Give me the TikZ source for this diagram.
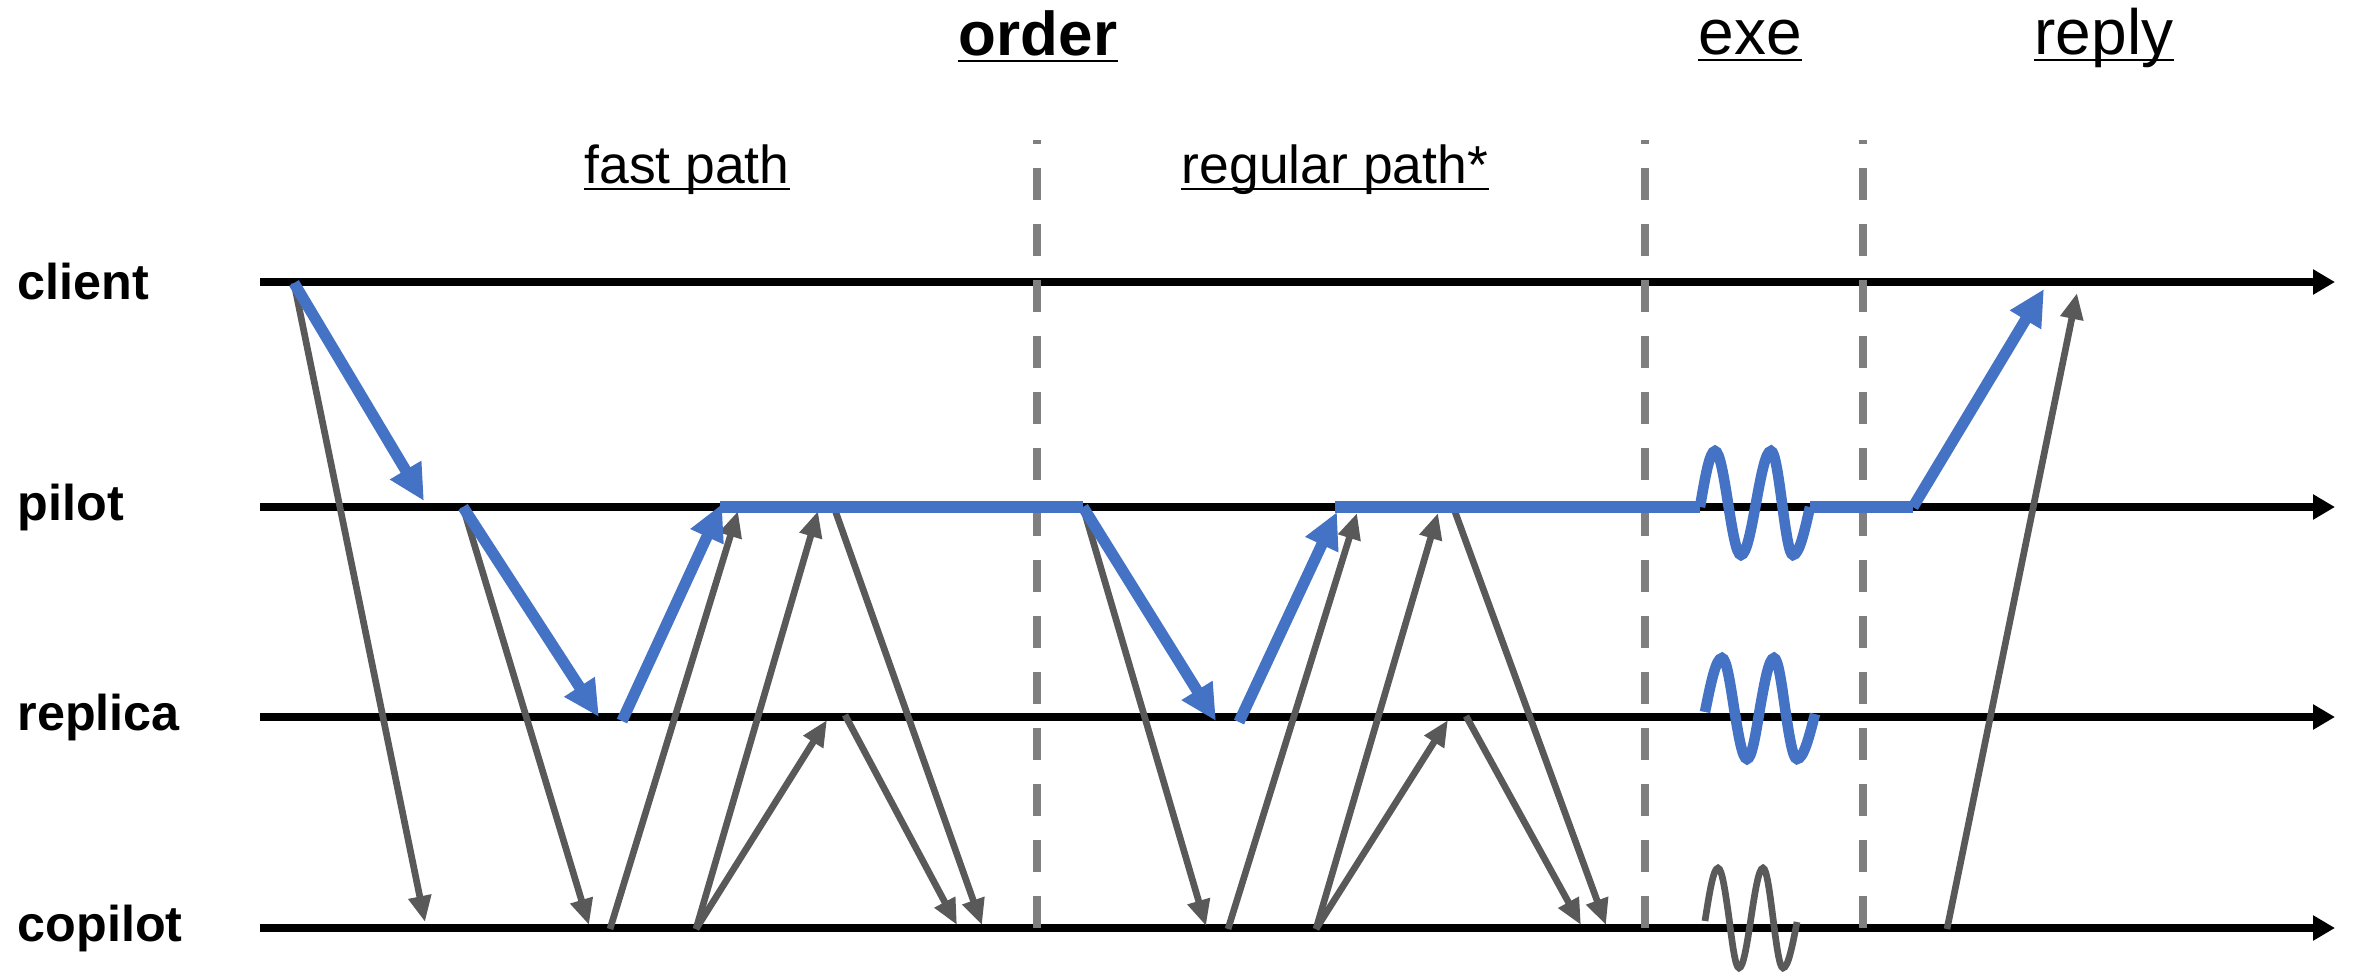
\documentclass[tikz,border=0pt]{standalone}
\usepackage{fontspec}
\setmainfont{Liberation Sans}
\usepackage{xcolor}
\usepackage{tikz}
\usetikzlibrary{arrows.meta}

\definecolor{msgblue}{HTML}{4472C4}
\definecolor{msggray}{HTML}{595959}
\definecolor{sepgray}{HTML}{7F7F7F}

\begin{document}
\begin{tikzpicture}[x=0.01cm,y=-0.01cm,
    timeline/.style={line width=2.3pt,-{Triangle[length=0.22cm,width=0.24cm]}},
    sepline/.style={draw=sepgray,line width=2pt,dash pattern=on 0.32cm off 0.24cm},
    graymsg/.style={draw=msggray,line width=1.9pt,-{Triangle[length=0.26cm,width=0.22cm]}},
    bluemsg/.style={draw=msgblue,line width=3.2pt,-{Triangle[length=0.36cm,width=0.34cm]}},
    bluehold/.style={draw=msgblue,line width=3.6pt},
    bluewave/.style={draw=msgblue,line width=3pt},
    graywave/.style={draw=msggray,line width=1.9pt},
    proc/.style={font=\fontsize{14.3}{17}\selectfont\bfseries,anchor=west,inner sep=0pt},
    phase/.style={font=\fontsize{18.2}{22}\selectfont,anchor=base,inner sep=0pt},
    subphase/.style={font=\fontsize{15.2}{18}\selectfont,anchor=base,inner sep=0pt},
    uline/.style={line width=0.8pt}]
  \useasboundingbox (0,0) rectangle (2356,975);

  \node[phase,font=\fontsize{17.6}{21}\selectfont\bfseries] (order) at (1038,55) {order};
  \node[phase] (exe) at (1750,54) {exe};
  \node[phase] (reply) at (2104,54) {reply};
  \node[subphase] (fast) at (687,183) {fast path};
  \node[subphase] (regular) at (1335,183) {regular path*};
  \foreach \n in {order,exe,reply,fast,regular}
    \draw[uline] ([yshift=-0.06cm]\n.base west) -- ([yshift=-0.06cm]\n.base east);

  \foreach \n/\y in {client/282,pilot/507,replica/717,copilot/928} {
    \node[proc] (lbl-\n) at (17,\y) {\n};
    \coordinate (\n-s) at (260,\y);
    \coordinate (\n-e) at (2335,\y);
    \draw[timeline] (\n-s) -- (\n-e);
  }

  \foreach \x [count=\i] in {1037,1645,1863} {
    \coordinate (sep\i-b) at (\x,928);
    \coordinate (sep\i-t) at (\x,140);
    \draw[sepline] (sep\i-b) -- (sep\i-t);
  }

  \coordinate (cl0) at (294,283);
  \coordinate (cl1) at (2044,289);
  \coordinate (cl2) at (2077,293);

  \coordinate (pi0) at (424,501);
  \coordinate (pi1) at (463,507);
  \coordinate (pi2) at (722,504);
  \coordinate (pi2h) at (720,507);
  \coordinate (pi3) at (738,511);
  \coordinate (pi4) at (818,511);
  \coordinate (pi5) at (835,510);
  \coordinate (pi6) at (1083,507);
  \coordinate (pi7) at (1337,512);
  \coordinate (pi7h) at (1335,507);
  \coordinate (pi8) at (1357,513);
  \coordinate (pi9) at (1438,513);
  \coordinate (pi10) at (1454,509);
  \coordinate (pi11) at (1700,507);
  \coordinate (pi12) at (1810,507);
  \coordinate (pi13) at (1913,507);

  \coordinate (re0) at (599,717);
  \coordinate (re1) at (622,721);
  \coordinate (re2) at (827,720);
  \coordinate (re3) at (845,715);
  \coordinate (re4) at (1216,721);
  \coordinate (re5) at (1239,722);
  \coordinate (re6) at (1448,720);
  \coordinate (re7) at (1466,716);

  \coordinate (co0) at (425,922);
  \coordinate (co1) at (589,925);
  \coordinate (co2) at (610,929);
  \coordinate (co3) at (696,929);
  \coordinate (co4) at (957,925);
  \coordinate (co5) at (982,925);
  \coordinate (co6) at (1206,926);
  \coordinate (co7) at (1228,929);
  \coordinate (co8) at (1316,929);
  \coordinate (co9) at (1581,925);
  \coordinate (co10) at (1606,925);
  \coordinate (co11) at (1947,929);

  \foreach \a/\b in {cl0/co0,pi1/co1,co2/pi3,co3/pi4,co3/re2,re3/co4,pi5/co5,
                     pi6/co6,co7/pi8,co8/pi9,co8/re6,re7/co9,pi10/co10,co11/cl2}
    \draw[graymsg] (\a) -- (\b);

  \draw[bluehold] (pi2h) -- (pi6);
  \draw[bluehold] (pi7h) -- (pi11);
  \draw[bluewave] (pi11) sin (1715,451) cos (1728,503) sin (1741,555) cos (1756,503)
    sin (1771,451) cos (1782,503) sin (1793,555) cos (pi12);
  \draw[bluehold] (pi12) -- (pi13);

  \draw[bluewave] (1705,712) sin (1722,658) cos (1734,708) sin (1747,759) cos (1760,708)
    sin (1774,658) cos (1785,708) sin (1797,759) cos (1815,714);
  \draw[graywave] (1705,921) sin (1718,868) cos (1729,918) sin (1739,968) cos (1751,918)
    sin (1763,868) cos (1773,918) sin (1783,968) cos (1797,922);

  \foreach \a/\b in {cl0/pi0,pi1/re0,re1/pi2,pi6/re4,re5/pi7,pi13/cl1}
    \draw[bluemsg] (\a) -- (\b);
\end{tikzpicture}
\end{document}
